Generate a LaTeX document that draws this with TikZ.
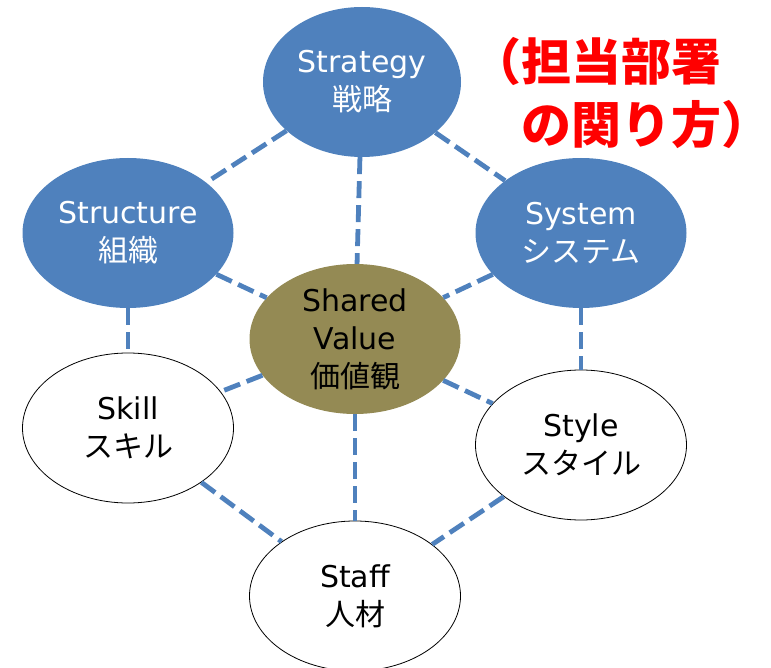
\documentclass[tikz,border=0pt]{standalone}
\usepackage{fontspec}
\setmainfont{DejaVu Sans}
\newfontfamily\jp{Noto Sans CJK JP}
\usepackage{xcolor}
\usepackage{tikz}
\usetikzlibrary{shapes.geometric}

\definecolor{bleu}{HTML}{4F81BD}
\definecolor{kaki}{HTML}{948A54}
\definecolor{rouge}{HTML}{FF0000}

\tikzset{
    pole/.style={ellipse, minimum width=211pt, minimum height=150pt, inner sep=0pt,
        align=center, font=\fontsize{30}{38}\selectfont},
    dur/.style={pole, fill=bleu, text=white},
    doux/.style={pole, draw=black, line width=0.8pt, fill=white},
    lien/.style={draw=bleu, line width=4.8pt, dash pattern=on 17pt off 7pt}
}

\begin{document}
\begin{tikzpicture}[x=1pt, y=-1pt]
            \useasboundingbox (0,0) rectangle (771,668);

            \node [dur, minimum width=198pt] (strategy) at (362,82) {Strategy\\\jp 戦略};
            \node [dur] (structure) at (128,233) {Structure\\\jp 組織};
            \node [dur] (system) at (581,233) {System\\\jp システム};
            \node [pole, fill=kaki] (shared) at (355,339) {Shared\\Value\\\jp 価値観};
            \node [doux] (skill) at (128,428) {Skill\\\jp スキル};
            \node [doux] (style) at (581,445) {Style\\\jp スタイル};
            \node [doux] (staff) at (355,596) {Staff\\\jp 人材};

            \draw [lien] (strategy) -- (structure);
            \draw [lien] (strategy) -- (system);
            \draw [lien] (strategy) -- (shared);
            \draw [lien] (structure) -- (shared);
            \draw [lien] (system) -- (shared);
            \draw [lien] (structure) -- (skill);
            \draw [lien] (system) -- (style);
            \draw [lien] (shared) -- (skill);
            \draw [lien] (shared) -- (style);
            \draw [lien] (shared) -- (staff);
            \draw [lien] (skill) -- (staff);
            \draw [lien] (style) -- (staff);

            \node [anchor=north west, inner sep=0pt, align=left, text=rouge,
                font=\jp\bfseries\fontsize{50}{63}\selectfont] (role) at (471,37)
                {（担当部署\\\hspace*{1em}の関り方）};

        \end{tikzpicture}
\end{document}
